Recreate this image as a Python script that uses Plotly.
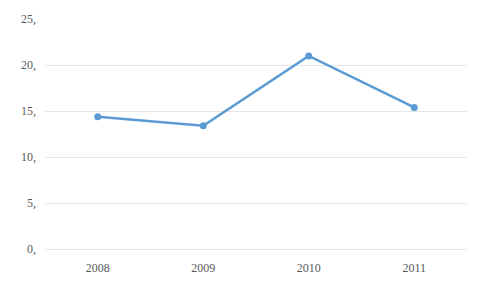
import plotly.graph_objects as go

years = ["2008", "2009", "2010", "2011"]
values = [14.4, 13.4, 21.0, 15.4]
y_ticks = [0, 5, 10, 15, 20, 25]
y_tick_labels = [f"{v}," for v in y_ticks]

fig = go.Figure()
fig.add_trace(go.Scatter(
    x=years, y=values, mode="lines+markers",
    line=dict(color="#5b9bd5", width=2.5),
    marker=dict(color="#5b9bd5", size=7),
    showlegend=False,
    cliponaxis=False,
))
fig.update_layout(
    width=482, height=289,
    margin=dict(l=45, r=15, t=15, b=40),
    paper_bgcolor="white", plot_bgcolor="white",
    font=dict(family="Liberation Serif, DejaVu Serif, serif", size=12, color="#595959"),
    xaxis=dict(type="category", range=[-0.5, 3.5], showgrid=False,
               showline=False, zeroline=False, ticks="", ticklen=0,
               ticklabelstandoff=10,
               tickfont=dict(family="Liberation Serif", size=12, color="#595959")),
    yaxis=dict(range=[0, 25.02], tickvals=y_ticks, ticktext=y_tick_labels,
               showgrid=True, gridcolor="#e6e6e6", gridwidth=1,
               zeroline=True, zerolinecolor="#e6e6e6", zerolinewidth=1,
               showline=False, ticks="", ticklen=0,
               ticklabelstandoff=8,
               tickfont=dict(family="Liberation Serif", size=12, color="#595959")),
)
fig.write_html("out.html")
